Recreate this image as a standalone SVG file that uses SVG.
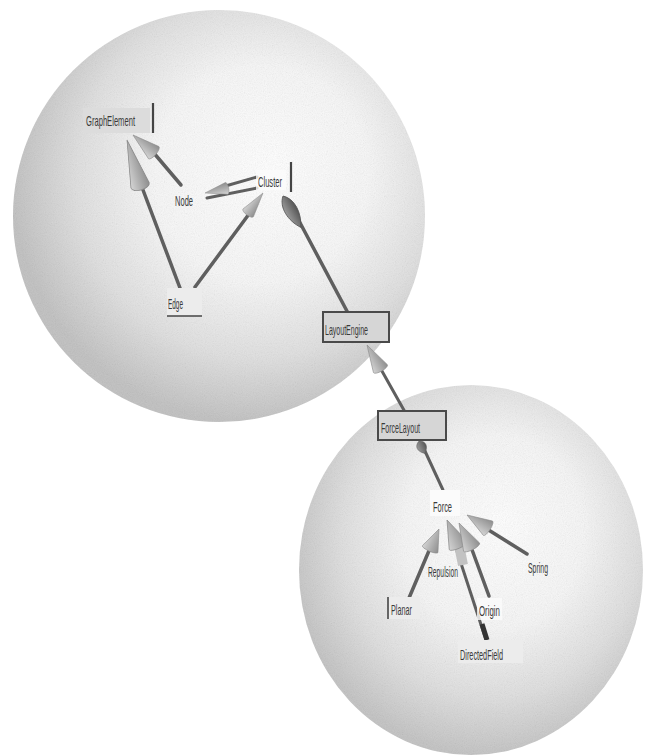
<svg xmlns="http://www.w3.org/2000/svg" width="645" height="756" viewBox="0 0 645 756">
<style>
  .lbl { font-family: "Liberation Sans", Arial, sans-serif; font-size: 15px; fill: #3a3a3a; }
  .box { fill: #dcdcdc; }
  .lightbox { fill: #ececec; }
  .whitebox { fill: #fbfbfb; }
  .frame { fill: #d6d6d6; stroke: #4a4a4a; stroke-width: 2; }
  .bar { stroke: #444; stroke-width: 2.2; }
  .edge { stroke: #5f5f5f; stroke-width: 3.5; stroke-linecap: round; fill: none; }
  .cone { fill: url(#coneGrad); stroke: #8a8a8a; stroke-width: 0.8; }
  .darkcone { fill: url(#darkGrad); stroke: #555; stroke-width: 0.8; }
</style>
<defs>
  <radialGradient id="bigSphere" cx="0.58" cy="0.42" r="0.58" fx="0.62" fy="0.38">
    <stop offset="0" stop-color="#ffffff"/>
    <stop offset="0.45" stop-color="#f7f7f7"/>
    <stop offset="0.75" stop-color="#dfdfdf"/>
    <stop offset="1" stop-color="#c0c0c0"/>
  </radialGradient>
  <radialGradient id="smallSphere" cx="0.55" cy="0.42" r="0.58" fx="0.58" fy="0.38">
    <stop offset="0" stop-color="#ffffff"/>
    <stop offset="0.45" stop-color="#f6f6f6"/>
    <stop offset="0.75" stop-color="#dedede"/>
    <stop offset="1" stop-color="#c2c2c2"/>
  </radialGradient>
  <linearGradient id="coneGrad" x1="0" y1="0" x2="0" y2="1">
    <stop offset="0" stop-color="#d4d4d4"/>
    <stop offset="0.5" stop-color="#b0b0b0"/>
    <stop offset="1" stop-color="#8e8e8e"/>
  </linearGradient>
  <linearGradient id="darkGrad" x1="0" y1="0" x2="0" y2="1">
    <stop offset="0" stop-color="#9a9a9a"/>
    <stop offset="1" stop-color="#555"/>
  </linearGradient>
  <filter id="grain" x="0" y="0" width="100%" height="100%">
    <feTurbulence type="fractalNoise" baseFrequency="0.9" numOctaves="2" seed="4" result="n"/>
    <feColorMatrix in="n" type="saturate" values="0" result="g"/>
    <feComposite in="g" in2="SourceGraphic" operator="in"/>
  </filter>
  <!-- unit cone: tip at origin, pointing +x, length 40, half-width 10 -->
  <path id="cone" d="M0,0 L-40,-10 A4,10 0 0 0 -40,10 Z"/>
  <path id="leaf" d="M0,0 C-8,-9 -24,-8 -36,0 C-24,8 -8,9 0,0 Z"/>
</defs>

<g id="spheres">
  <ellipse cx="219" cy="216" rx="206" ry="206" fill="url(#bigSphere)"/>
  <ellipse cx="219" cy="216" rx="206" ry="206" fill="#000" filter="url(#grain)" opacity="0.2"/>
  <ellipse cx="471" cy="570" rx="172" ry="185" fill="url(#smallSphere)"/>
  <ellipse cx="471" cy="570" rx="172" ry="185" fill="#000" filter="url(#grain)" opacity="0.2"/>
</g>

<g id="connectors">
  <!-- Node -> GraphElement -->
  <line class="edge" x1="153" y1="152" x2="181" y2="185"/>
  <use href="#cone" class="cone" transform="translate(133,135) rotate(220.4) scale(0.68,0.8)"/>
  <!-- Edge -> GraphElement -->
  <line class="edge" x1="140" y1="182" x2="180" y2="288"/>
  <use href="#cone" class="cone" transform="translate(127,140) rotate(253.9) scale(1.18,0.95)"/>
  <!-- Cluster -> Node (double) -->
  <line class="edge" x1="222" y1="187" x2="257" y2="177" style="stroke-width:3"/>
  <line class="edge" x1="207" y1="198" x2="257" y2="188" style="stroke-width:3"/>
  <use href="#cone" class="cone" transform="translate(205,193) rotate(168) scale(0.55,0.6)"/>
  <!-- Edge -> Cluster -->
  <line class="edge" x1="195" y1="287" x2="252" y2="210"/>
  <use href="#cone" class="cone" transform="translate(263,193) rotate(-53.3) scale(0.62,0.65)"/>
  <!-- LayoutEngine -> Cluster -->
  <line class="edge" x1="298" y1="219" x2="348" y2="313"/>
  <use href="#leaf" class="darkcone" transform="translate(283,196) rotate(240.5)"/>
  <!-- ForceLayout -> LayoutEngine -->
  <line class="edge" x1="378" y1="364" x2="405" y2="412" style="stroke-width:3"/>
  <use href="#cone" class="cone" transform="translate(367,345) rotate(240.4) scale(0.68,0.8)"/>
  <!-- Force -> ForceLayout -->
  <line class="edge" x1="424" y1="449" x2="443" y2="490" style="stroke-width:3"/>
  <use href="#leaf" class="darkcone" transform="translate(419,441) rotate(245) scale(0.38,0.75)"/>
  <!-- Planar -> Force -->
  <line class="edge" x1="409" y1="598" x2="431" y2="546"/>
  <use href="#cone" class="cone" transform="translate(439,529) rotate(-66.3) scale(0.55,0.85)"/>
  <!-- DirectedField -> Force -->
  <line class="edge" x1="455" y1="545" x2="486" y2="640" style="stroke-width:3"/>
  <line x1="482" y1="624" x2="487" y2="640" stroke="#333" stroke-width="5"/>
  <!-- Repulsion -> Force -->
  <line x1="459" y1="545" x2="463" y2="565" stroke="#c2c2c2" stroke-width="10"/>
  <use href="#cone" class="cone" transform="translate(447,520) rotate(246) scale(0.7,1.0)"/>
  <!-- Origin -> Force -->
  <line class="edge" x1="471" y1="547" x2="489" y2="596"/>
  <use href="#cone" class="cone" transform="translate(459,523) rotate(242.5) scale(0.68,0.9)"/>
  <!-- Spring -> Force -->
  <line class="edge" x1="487" y1="529" x2="527" y2="554"/>
  <use href="#cone" class="cone" transform="translate(467,515) rotate(212.3) scale(0.62,0.85)"/>
</g>

<g id="node-graphelement">
  <rect class="box" x="83" y="108" width="67" height="25"/>
  <line class="bar" x1="153" y1="103" x2="153" y2="133"/>
  <text class="lbl" x="86" y="126" textLength="49" lengthAdjust="spacingAndGlyphs">GraphElement</text>
</g>
<g id="node-node">
  <text class="lbl" x="175" y="206" textLength="18" lengthAdjust="spacingAndGlyphs">Node</text>
</g>
<g id="node-cluster">
  <rect class="whitebox" x="256" y="170" width="30" height="20" opacity="0.8"/>
  <line class="bar" x1="291" y1="162" x2="291" y2="192"/>
  <text class="lbl" x="258" y="187" textLength="24" lengthAdjust="spacingAndGlyphs">Cluster</text>
</g>
<g id="node-edge">
  <rect class="lightbox" x="167" y="288" width="35" height="28"/>
  <line class="bar" x1="167" y1="316" x2="202" y2="316" style="stroke-width:1.6"/>
  <text class="lbl" x="168" y="309" textLength="15" lengthAdjust="spacingAndGlyphs">Edge</text>
</g>
<g id="node-layoutengine">
  <rect class="frame" x="323" y="312" width="66" height="30"/>
  <text class="lbl" x="325" y="335" textLength="43" lengthAdjust="spacingAndGlyphs">LayoutEngine</text>
</g>
<g id="node-forcelayout">
  <rect class="frame" x="378" y="411" width="68" height="29"/>
  <text class="lbl" x="381" y="433" textLength="39" lengthAdjust="spacingAndGlyphs">ForceLayout</text>
</g>
<g id="node-force">
  <rect class="whitebox" x="430" y="490" width="30" height="26"/>
  <text class="lbl" x="433" y="512" textLength="19" lengthAdjust="spacingAndGlyphs">Force</text>
</g>
<g id="node-repulsion">
  <text class="lbl" x="428" y="577" textLength="30" lengthAdjust="spacingAndGlyphs" style="font-size:14px">Repulsion</text>
</g>
<g id="node-spring">
  <text class="lbl" x="528" y="573" textLength="20" lengthAdjust="spacingAndGlyphs" style="font-size:14px">Spring</text>
</g>
<g id="node-planar">
  <rect class="lightbox" x="387" y="597" width="33" height="22"/>
  <line class="bar" x1="388" y1="597" x2="388" y2="619" style="stroke-width:1.6"/>
  <text class="lbl" x="391" y="615" textLength="21" lengthAdjust="spacingAndGlyphs">Planar</text>
</g>
<g id="node-origin">
  <rect class="whitebox" x="477" y="598" width="25" height="22" opacity="0.8"/>
  <text class="lbl" x="479" y="616" textLength="21" lengthAdjust="spacingAndGlyphs">Origin</text>
</g>
<g id="node-directedfield">
  <rect class="lightbox" x="458" y="640" width="65" height="23"/>
  <text class="lbl" x="460" y="660" textLength="43" lengthAdjust="spacingAndGlyphs">DirectedField</text>
</g>
</svg>
